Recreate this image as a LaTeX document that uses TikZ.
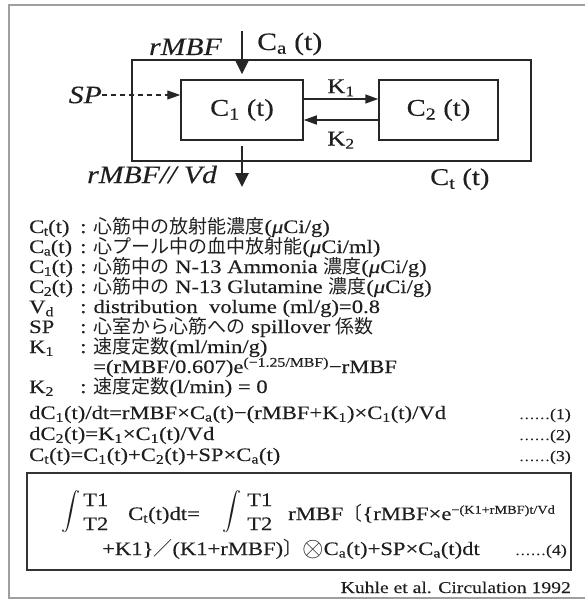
\documentclass[tikz,border=0pt]{standalone}
\usepackage{graphicx}
\usepackage{fontspec}
\setmainfont[FakeStretch=1.19, FakeBold=0.3]{Liberation Serif}
\newfontfamily\jpfont{Noto Sans CJK JP}
\usetikzlibrary{positioning, arrows.meta, calc}
\newcommand{\ja}[1]{{\jpfont #1}}
\newcommand{\ssub}[1]{\textsubscript{#1}}
\newcommand{\ksub}[1]{\kern-0.5pt\textsubscript{#1}\kern-0.5pt}
\newcommand{\uCi}{\textit{μ}Ci}
\newcommand{\leader}{{\fontsize{13}{14}\selectfont ……}}
\newcommand{\bigint}{\scalebox{1.9}{$\displaystyle\int$}}
\newcommand{\conv}{\raisebox{-1pt}{\scalebox{1.6}{$\otimes$}}}

\begin{document}
\begin{tikzpicture}[
  x=1pt, y=-1pt,
  >=Stealth,
  font=\fontsize{19}{20}\selectfont,
  text=black!88,
  comp/.style={draw=black!85, line width=1.5pt,
    minimum width=122pt, minimum height=60pt, inner sep=0pt,
    font=\fontsize{24}{25}\selectfont},
  tank/.style={draw=black!85, line width=1.8pt,
    minimum width=399pt, minimum height=101pt, inner sep=0pt},
  flow/.style={draw=black!85, line width=2.6pt, -{Triangle[length=14pt,width=13pt]}},
  rate/.style={draw=black!85, line width=1.5pt, -{Triangle[length=13pt,width=9pt]}},
  spill/.style={draw=black!85, line width=1.2pt, dash pattern=on 5pt off 4pt,
    -{Triangle[length=13pt,width=9pt]}},
  flowlbl/.style={font=\fontsize{25}{26}\selectfont\itshape, inner sep=0pt},
  ratelbl/.style={font=\fontsize{21}{22}\selectfont, inner sep=0pt},
  deflbl/.style={anchor=base west, inner sep=0pt},
  eqno/.style={anchor=base east, inner sep=0pt, font=\fontsize{15}{16}\selectfont},
]
\useasboundingbox (0,0) rectangle (584,602);

% outer frame of the slide
\draw[gray!75, line width=1.3pt] (9,5) rectangle (600,598);

% ---- compartment model ----
\node[tank] (ct) at (331.5,110.5) {};
\node[comp] (c1) at (242,110) {C\ssub{1} (t)};
\node[comp, minimum width=119pt] (c2) at (438.5,110) {C\ssub{2} (t)};

\draw[rate] ([yshift=11pt]c1.east) -- ([yshift=11pt]c2.west)
  node[ratelbl, midway, above=2pt] (k1) {K\ssub{1}};
\draw[rate] ([yshift=-10pt]c2.west) -- ([yshift=-10pt]c1.east)
  node[ratelbl, midway, below=11pt] (k2) {K\ssub{2}};

\coordinate (cain) at (242,31);
\coordinate (cout) at (242,187);
\draw[flow, shorten >=5pt] (cain) -- (c1.north);
\draw[flow, shorten <=5pt] (c1.south) -- (cout);

\node[flowlbl, anchor=base east] (mbfin) at (222,55) {rMBF};
\node[inner sep=0pt, anchor=base west, font=\fontsize{25}{26}\selectfont]
  (calbl) at (257,50) {C\ssub{a} (t)};
\node[flowlbl, anchor=base west] (mbfout) at (87,183) {rMBF// Vd};
\node[inner sep=0pt, anchor=base west, font=\fontsize{24}{25}\selectfont]
  (ctlbl) at (430,185) {C\ssub{t} (t)};
\node[flowlbl, anchor=east] (sp) at (102,95) {SP};
\draw[spill] (sp) -- (sp -| c1.west);

% ---- definitions ----
\node[deflbl] (kct) at (29,233) {C\ksub{t}(t)};
\node[deflbl] (vct) at (80,233) {:\hspace{7pt}\ja{心筋中の放射能濃度}(\uCi/g)};
\node[deflbl] (kca) at (29,253) {C\ksub{a}(t)};
\node[deflbl] (vca) at (80,253) {:\hspace{7pt}\ja{心プール中の血中放射能}(\uCi/ml)};
\node[deflbl] (kc1) at (29,273) {C\ksub{1}(t)};
\node[deflbl] (vc1) at (80,273) {:\hspace{7pt}\ja{心筋中の} N-13 Ammonia \ja{濃度}(\uCi/g)};
\node[deflbl] (kc2) at (29,293) {C\ksub{2}(t)};
\node[deflbl] (vc2) at (80,293) {:\hspace{7pt}\ja{心筋中の} N-13 Glutamine \ja{濃度}(\uCi/g)};
\node[deflbl] (kvd) at (29,313) {V\ssub{d}};
\node[deflbl] (vvd) at (80,313) {:\hspace{7pt}distribution\ \ volume (ml/g)=0.8};
\node[deflbl] (ksp) at (29,333) {SP};
\node[deflbl] (vsp) at (80,333) {:\hspace{7pt}\ja{心室から心筋への} spillover \ja{係数}};
\node[deflbl] (kk1) at (29,353) {K\ssub{1}};
\node[deflbl] (vk1) at (80,353) {:\hspace{7pt}\ja{速度定数}(ml/min/g)};
\node[deflbl] (vk1b) at (93,373) {=(rMBF/0.607)e\textsuperscript{(−1.25/MBF)}−rMBF};
\node[deflbl] (kk2) at (29,393) {K\ssub{2}};
\node[deflbl] (vk2) at (80,393) {:\hspace{7pt}\ja{速度定数}(l/min) = 0};

% ---- equations ----
\node[deflbl] (eq1) at (29,419)
  {dC\ssub{1}(t)/dt=rMBF×C\ssub{a}(t)−(rMBF+K\ssub{1})×C\ssub{1}(t)/Vd};
\node[eqno] (n1) at (571,419) {\leader(1)};
\node[deflbl] (eq2) at (29,440) {dC\ssub{2}(t)=K\ssub{1}×C\ssub{1}(t)/Vd};
\node[eqno] (n2) at (571,440) {\leader(2)};
\node[deflbl] (eq3) at (29,461) {C\ssub{t}(t)=C\ssub{1}(t)+C\ssub{2}(t)+SP×C\ssub{a}(t)};
\node[eqno] (n3) at (571,461) {\leader(3)};

% ---- integral form ----
\node[draw=black!80, line width=1.3pt, minimum width=544pt, minimum height=97pt,
  inner sep=0pt] (intbox) at (299,521.5) {};
\node[inner sep=0pt] (int1) at (71,512) {\bigint};
\node[deflbl] (ua) at (83,506) {T1};
\node[deflbl] (la) at (83,530) {T2};
\node[deflbl] (lhs) at (128,520) {C\ssub{t}(t)dt=};
\node[inner sep=0pt] (int2) at (232,512) {\bigint};
\node[deflbl] (ub) at (247,506) {T1};
\node[deflbl] (lb) at (247,530) {T2};
\node[deflbl] (rhsa) at (288,520)
  {rMBF\ja{〔}\{rMBF×e\textsuperscript{\fontsize{12}{13}\selectfont −(K1+rMBF)t/Vd}};
\node[deflbl] (rhsb) at (102,555)
  {+K1\}\ja{／}(K1+rMBF)\ja{〕}\conv C\ssub{a}(t)+SP×C\ssub{a}(t)dt};
\node[eqno] (n4) at (567,555) {\leader(4)};

\node[anchor=base east, inner sep=0pt, font=\fontsize{16.5}{17}\selectfont]
  (cite) at (571,593) {Kuhle et al. Circulation 1992};
\end{tikzpicture}
\end{document}
